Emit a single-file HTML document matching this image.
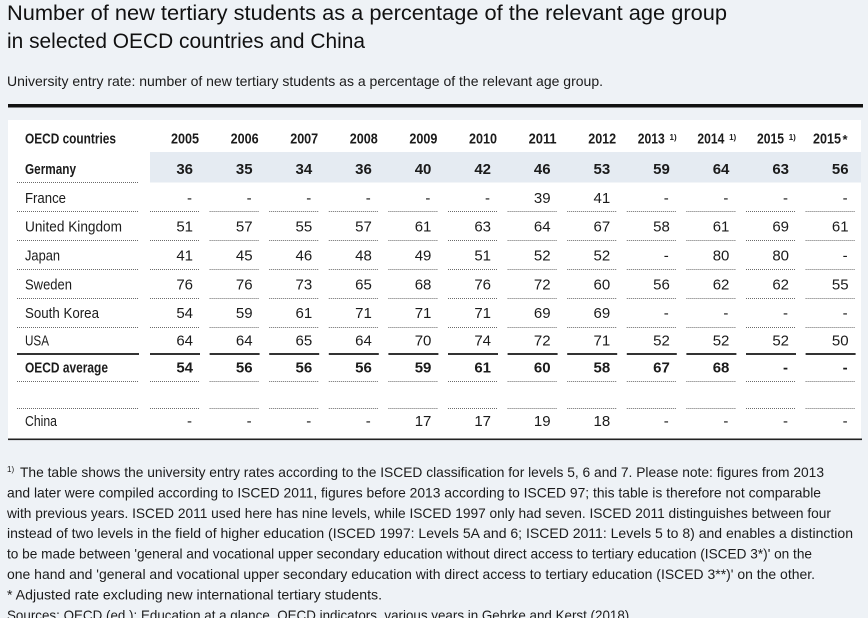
<!DOCTYPE html>
<html><head><meta charset="utf-8"><style>
html,body{margin:0;padding:0;background:#eef2f6;}
svg{display:block;}
text{font-family:"Liberation Sans",sans-serif;fill:#1b1b1b;}
.h{font-weight:bold;font-size:15px;text-anchor:end;}
.b{font-weight:bold;font-size:15px;text-anchor:end;}
.n{font-size:15px;text-anchor:end;}
.l{font-size:15px;}
.lb{font-size:15px;font-weight:bold;}
.f{font-size:14px;}
.sup{font-size:8px;font-weight:bold;}
</style></head><body>
<svg width="868" height="618" viewBox="0 0 868 618" xmlns="http://www.w3.org/2000/svg">
<rect x="0" y="0" width="868" height="618" fill="#eef2f6"/>
<text x="7" y="20" font-size="21" textLength="720" lengthAdjust="spacingAndGlyphs" style="fill:#111">Number of new tertiary students as a percentage of the relevant age group</text>
<text x="7" y="48" font-size="21" textLength="358" lengthAdjust="spacingAndGlyphs" style="fill:#111">in selected OECD countries and China</text>
<text x="7" y="86" font-size="14" textLength="596" lengthAdjust="spacingAndGlyphs">University entry rate: number of new tertiary students as a percentage of the relevant age group.</text>
<rect x="8" y="104" width="855" height="3.5" fill="#111"/>
<rect x="8" y="120" width="853" height="319" fill="#ffffff"/>
<rect x="150" y="152" width="711" height="30.5" fill="#e5ebf2"/>
<rect x="8" y="438.5" width="854" height="1.6" fill="#222"/>

<g stroke="#6a6a6a" stroke-width="1" stroke-dasharray="1,1" fill="none">
<path d="M17 182.5H139"/>
<path d="M17 211.5H139M150 211.5H200M209.6 211.5H259.6M269.2 211.5H319.2M328.8 211.5H378.8M388.4 211.5H438.4M448 211.5H498M507.6 211.5H557.6M567.2 211.5H617.2M626.8 211.5H676.8M686.4 211.5H736.4M746 211.5H796M805.6 211.5H855.6"/>
<path d="M17 240.5H139M150 240.5H200M209.6 240.5H259.6M269.2 240.5H319.2M328.8 240.5H378.8M388.4 240.5H438.4M448 240.5H498M507.6 240.5H557.6M567.2 240.5H617.2M626.8 240.5H676.8M686.4 240.5H736.4M746 240.5H796M805.6 240.5H855.6"/>
<path d="M17 269.5H139M150 269.5H200M209.6 269.5H259.6M269.2 269.5H319.2M328.8 269.5H378.8M388.4 269.5H438.4M448 269.5H498M507.6 269.5H557.6M567.2 269.5H617.2M626.8 269.5H676.8M686.4 269.5H736.4M746 269.5H796M805.6 269.5H855.6"/>
<path d="M17 298.5H139M150 298.5H200M209.6 298.5H259.6M269.2 298.5H319.2M328.8 298.5H378.8M388.4 298.5H438.4M448 298.5H498M507.6 298.5H557.6M567.2 298.5H617.2M626.8 298.5H676.8M686.4 298.5H736.4M746 298.5H796M805.6 298.5H855.6"/>
<path d="M17 327.5H139M150 327.5H200M209.6 327.5H259.6M269.2 327.5H319.2M328.8 327.5H378.8M388.4 327.5H438.4M448 327.5H498M507.6 327.5H557.6M567.2 327.5H617.2M626.8 327.5H676.8M686.4 327.5H736.4M746 327.5H796M805.6 327.5H855.6"/>
<path d="M17 381.5H139M150 381.5H200M209.6 381.5H259.6M269.2 381.5H319.2M328.8 381.5H378.8M388.4 381.5H438.4M448 381.5H498M507.6 381.5H557.6M567.2 381.5H617.2M626.8 381.5H676.8M686.4 381.5H736.4M746 381.5H796M805.6 381.5H855.6"/>
<path d="M17 408.5H139M150 408.5H200M209.6 408.5H259.6M269.2 408.5H319.2M328.8 408.5H378.8M388.4 408.5H438.4M448 408.5H498M507.6 408.5H557.6M567.2 408.5H617.2M626.8 408.5H676.8M686.4 408.5H736.4M746 408.5H796M805.6 408.5H855.6"/>
</g>
<path d="M17 354H139M150 354H200M209.6 354H259.6M269.2 354H319.2M328.8 354H378.8M388.4 354H438.4M448 354H498M507.6 354H557.6M567.2 354H617.2M626.8 354H676.8M686.4 354H736.4M746 354H796M805.6 354H855.6" stroke="#333" stroke-width="2" fill="none"/>

<!-- header -->
<text class="lb" x="25" y="143.5" textLength="91" lengthAdjust="spacingAndGlyphs">OECD countries</text>
<text class="h" x="199" y="143.5" textLength="28" lengthAdjust="spacingAndGlyphs">2005</text>
<text class="h" x="258.6" y="143.5" textLength="28" lengthAdjust="spacingAndGlyphs">2006</text>
<text class="h" x="318.2" y="143.5" textLength="28" lengthAdjust="spacingAndGlyphs">2007</text>
<text class="h" x="377.8" y="143.5" textLength="28" lengthAdjust="spacingAndGlyphs">2008</text>
<text class="h" x="437.4" y="143.5" textLength="28" lengthAdjust="spacingAndGlyphs">2009</text>
<text class="h" x="497" y="143.5" textLength="28" lengthAdjust="spacingAndGlyphs">2010</text>
<text class="h" x="556.6" y="143.5" textLength="28" lengthAdjust="spacingAndGlyphs">2011</text>
<text class="h" x="616.2" y="143.5" textLength="28" lengthAdjust="spacingAndGlyphs">2012</text>
<text class="h" x="664.8" y="143.5" textLength="27" lengthAdjust="spacingAndGlyphs">2013</text>
<text class="sup" x="669.5" y="140">1)</text>
<text class="h" x="724.4" y="143.5" textLength="27" lengthAdjust="spacingAndGlyphs">2014</text>
<text class="sup" x="729.1" y="140">1)</text>
<text class="h" x="784" y="143.5" textLength="27" lengthAdjust="spacingAndGlyphs">2015</text>
<text class="sup" x="788.7" y="140">1)</text>
<text class="h" x="841" y="143.5" textLength="28" lengthAdjust="spacingAndGlyphs">2015</text>
<text x="842.5" y="144" font-size="13" font-weight="bold">*</text>

<!-- Germany -->
<text class="lb" x="25" y="174" textLength="51" lengthAdjust="spacingAndGlyphs">Germany</text>
<text class="b" x="193" y="174">36</text><text class="b" x="252.6" y="174">35</text><text class="b" x="312.2" y="174">34</text><text class="b" x="371.8" y="174">36</text><text class="b" x="431.4" y="174">40</text><text class="b" x="491" y="174">42</text><text class="b" x="550.6" y="174">46</text><text class="b" x="610.2" y="174">53</text><text class="b" x="669.8" y="174">59</text><text class="b" x="729.4" y="174">64</text><text class="b" x="789" y="174">63</text><text class="b" x="848.6" y="174">56</text>

<!-- France -->
<text class="l" x="25" y="203" textLength="41" lengthAdjust="spacingAndGlyphs">France</text>
<text class="n" x="192" y="203">-</text><text class="n" x="251.6" y="203">-</text><text class="n" x="311.2" y="203">-</text><text class="n" x="370.8" y="203">-</text><text class="n" x="430.4" y="203">-</text><text class="n" x="490" y="203">-</text><text class="n" x="550.6" y="203">39</text><text class="n" x="610.2" y="203">41</text><text class="n" x="668.8" y="203">-</text><text class="n" x="728.4" y="203">-</text><text class="n" x="788" y="203">-</text><text class="n" x="847.6" y="203">-</text>

<!-- UK -->
<text class="l" x="25" y="231.5" textLength="97" lengthAdjust="spacingAndGlyphs">United Kingdom</text>
<text class="n" x="193" y="231.5">51</text><text class="n" x="252.6" y="231.5">57</text><text class="n" x="312.2" y="231.5">55</text><text class="n" x="371.8" y="231.5">57</text><text class="n" x="431.4" y="231.5">61</text><text class="n" x="491" y="231.5">63</text><text class="n" x="550.6" y="231.5">64</text><text class="n" x="610.2" y="231.5">67</text><text class="n" x="669.8" y="231.5">58</text><text class="n" x="729.4" y="231.5">61</text><text class="n" x="789" y="231.5">69</text><text class="n" x="848.6" y="231.5">61</text>

<!-- Japan -->
<text class="l" x="25" y="260.5" textLength="35" lengthAdjust="spacingAndGlyphs">Japan</text>
<text class="n" x="193" y="260.5">41</text><text class="n" x="252.6" y="260.5">45</text><text class="n" x="312.2" y="260.5">46</text><text class="n" x="371.8" y="260.5">48</text><text class="n" x="431.4" y="260.5">49</text><text class="n" x="491" y="260.5">51</text><text class="n" x="550.6" y="260.5">52</text><text class="n" x="610.2" y="260.5">52</text><text class="n" x="668.8" y="260.5">-</text><text class="n" x="729.4" y="260.5">80</text><text class="n" x="789" y="260.5">80</text><text class="n" x="847.6" y="260.5">-</text>

<!-- Sweden -->
<text class="l" x="25" y="289.5" textLength="47" lengthAdjust="spacingAndGlyphs">Sweden</text>
<text class="n" x="193" y="289.5">76</text><text class="n" x="252.6" y="289.5">76</text><text class="n" x="312.2" y="289.5">73</text><text class="n" x="371.8" y="289.5">65</text><text class="n" x="431.4" y="289.5">68</text><text class="n" x="491" y="289.5">76</text><text class="n" x="550.6" y="289.5">72</text><text class="n" x="610.2" y="289.5">60</text><text class="n" x="669.8" y="289.5">56</text><text class="n" x="729.4" y="289.5">62</text><text class="n" x="789" y="289.5">62</text><text class="n" x="848.6" y="289.5">55</text>

<!-- South Korea -->
<text class="l" x="25" y="318" textLength="74" lengthAdjust="spacingAndGlyphs">South Korea</text>
<text class="n" x="193" y="318">54</text><text class="n" x="252.6" y="318">59</text><text class="n" x="312.2" y="318">61</text><text class="n" x="371.8" y="318">71</text><text class="n" x="431.4" y="318">71</text><text class="n" x="491" y="318">71</text><text class="n" x="550.6" y="318">69</text><text class="n" x="610.2" y="318">69</text><text class="n" x="668.8" y="318">-</text><text class="n" x="728.4" y="318">-</text><text class="n" x="788" y="318">-</text><text class="n" x="847.6" y="318">-</text>

<!-- USA -->
<text class="l" x="25" y="345.5" textLength="24" lengthAdjust="spacingAndGlyphs">USA</text>
<text class="n" x="193" y="345.5">64</text><text class="n" x="252.6" y="345.5">64</text><text class="n" x="312.2" y="345.5">65</text><text class="n" x="371.8" y="345.5">64</text><text class="n" x="431.4" y="345.5">70</text><text class="n" x="491" y="345.5">74</text><text class="n" x="550.6" y="345.5">72</text><text class="n" x="610.2" y="345.5">71</text><text class="n" x="669.8" y="345.5">52</text><text class="n" x="729.4" y="345.5">52</text><text class="n" x="789" y="345.5">52</text><text class="n" x="848.6" y="345.5">50</text>

<!-- OECD average -->
<text class="lb" x="25" y="372.5" textLength="83" lengthAdjust="spacingAndGlyphs">OECD average</text>
<text class="b" x="193" y="372.5">54</text><text class="b" x="252.6" y="372.5">56</text><text class="b" x="312.2" y="372.5">56</text><text class="b" x="371.8" y="372.5">56</text><text class="b" x="431.4" y="372.5">59</text><text class="b" x="491" y="372.5">61</text><text class="b" x="550.6" y="372.5">60</text><text class="b" x="610.2" y="372.5">58</text><text class="b" x="669.8" y="372.5">67</text><text class="b" x="729.4" y="372.5">68</text><text class="b" x="788" y="372.5">-</text><text class="b" x="847.6" y="372.5">-</text>

<!-- China -->
<text class="l" x="25" y="426" textLength="32" lengthAdjust="spacingAndGlyphs">China</text>
<text class="n" x="192" y="426">-</text><text class="n" x="251.6" y="426">-</text><text class="n" x="311.2" y="426">-</text><text class="n" x="370.8" y="426">-</text><text class="n" x="431.4" y="426">17</text><text class="n" x="491" y="426">17</text><text class="n" x="550.6" y="426">19</text><text class="n" x="610.2" y="426">18</text><text class="n" x="668.8" y="426">-</text><text class="n" x="728.4" y="426">-</text><text class="n" x="788" y="426">-</text><text class="n" x="847.6" y="426">-</text>

<!-- footnotes -->
<text x="7" y="472" font-size="8">1)</text>
<text class="f" x="20" y="477" textLength="804" lengthAdjust="spacingAndGlyphs">The table shows the university entry rates according to the ISCED classification for levels 5, 6 and 7. Please note: figures from 2013</text>
<text class="f" x="7" y="497.4" textLength="814" lengthAdjust="spacingAndGlyphs">and later were compiled according to ISCED 2011, figures before 2013 according to ISCED 97; this table is therefore not comparable</text>
<text class="f" x="7" y="517.8" textLength="824" lengthAdjust="spacingAndGlyphs">with previous years. ISCED 2011 used here has nine levels, while ISCED 1997 only had seven. ISCED 2011 distinguishes between four</text>
<text class="f" x="7" y="538.2" textLength="846" lengthAdjust="spacingAndGlyphs">instead of two levels in the field of higher education (ISCED 1997: Levels 5A and 6; ISCED 2011: Levels 5 to 8) and enables a distinction</text>
<text class="f" x="7" y="558.6" textLength="805" lengthAdjust="spacingAndGlyphs">to be made between 'general and vocational upper secondary education without direct access to tertiary education (ISCED 3*)' on the</text>
<text class="f" x="7" y="579" textLength="808" lengthAdjust="spacingAndGlyphs">one hand and 'general and vocational upper secondary education with direct access to tertiary education (ISCED 3**)' on the other.</text>
<text class="f" x="7" y="599.4" textLength="375" lengthAdjust="spacingAndGlyphs">* Adjusted rate excluding new international tertiary students.</text>
<text class="f" x="7" y="619.8" textLength="626" lengthAdjust="spacingAndGlyphs">Sources: OECD (ed.): Education at a glance. OECD indicators, various years in Gehrke and Kerst (2018).</text>
</svg>
</body></html>
